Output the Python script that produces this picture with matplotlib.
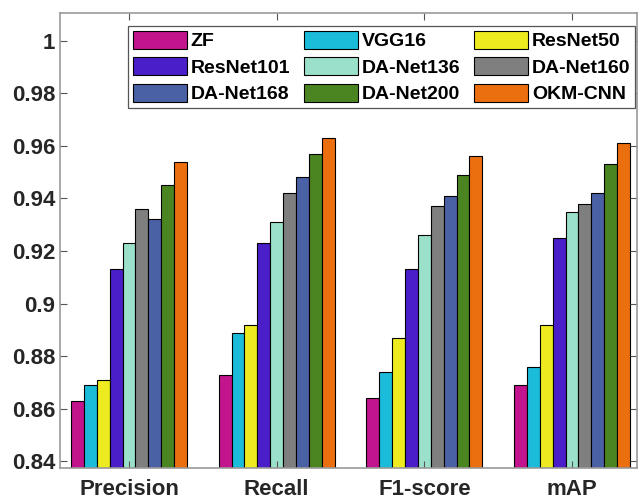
import matplotlib
matplotlib.use('Agg')
import matplotlib.pyplot as plt
import numpy as np

plt.rcParams['font.family'] = ['Liberation Sans', 'DejaVu Sans']
plt.rcParams['font.weight'] = 'bold'

metrics = ['Precision', 'Recall', 'F1-score', 'mAP']
models = ['ZF', 'VGG16', 'ResNet50', 'ResNet101', 'DA-Net136',
          'DA-Net160', 'DA-Net168', 'DA-Net200', 'OKM-CNN']
colors = ['#C2148C', '#1ABCDA', '#EDEB1F', '#4A1FC9', '#9BE0CA',
          '#7F7F7F', '#4B61A5', '#4A8521', '#EC6F0F']

# rows = models, cols = metrics
scores = [
    [0.863, 0.873, 0.864, 0.869],  # ZF
    [0.869, 0.889, 0.874, 0.876],  # VGG16
    [0.871, 0.892, 0.887, 0.892],  # ResNet50
    [0.913, 0.923, 0.913, 0.925],  # ResNet101
    [0.923, 0.931, 0.926, 0.935],  # DA-Net136
    [0.936, 0.942, 0.937, 0.938],  # DA-Net160
    [0.932, 0.948, 0.941, 0.942],  # DA-Net168
    [0.945, 0.957, 0.949, 0.953],  # DA-Net200
    [0.954, 0.963, 0.956, 0.961],  # OKM-CNN
]

fig = plt.figure(figsize=(6.41, 4.99), dpi=100)
ax = fig.add_axes([60 / 641, 31 / 499, 577 / 641, 455 / 499])

x = np.arange(1, len(metrics) + 1)
n = len(models)
w = 0.785 / n
handles = []
for i, (m, c) in enumerate(zip(models, colors)):
    h = ax.bar(x + (i - (n - 1) / 2) * w, scores[i], width=w, color=c,
               edgecolor='black', linewidth=0.8, label=m)
    handles.append(h)

ax.set_xlim(0.533, 4.44)
ax.set_ylim(0.8375, 1.0105)
ax.set_xticks(x)
ax.set_xticklabels(metrics)
ax.set_yticks([0.84, 0.86, 0.88, 0.9, 0.92, 0.94, 0.96, 0.98, 1.0])
ax.set_yticklabels(['0.84', '0.86', '0.88', '0.9', '0.92', '0.94',
                    '0.96', '0.98', '1'])
ax.tick_params(axis='both', direction='in', length=5, width=0.8,
               color='#555555', labelsize=16, labelcolor='#262626',
               top=True, right=True)
ax.tick_params(axis='x', pad=8)
for s in ax.spines.values():
    s.set_color('#999999')
    s.set_linewidth(1.2)

# legend is filled row by row, matplotlib fills column by column
order = [0, 3, 6, 1, 4, 7, 2, 5, 8]
leg = ax.legend([handles[k] for k in order], [models[k] for k in order],
                ncol=3, loc='upper left', bbox_to_anchor=(128 / 641, 1 - 26 / 499),
                bbox_transform=fig.transFigure, fontsize=14,
                handlelength=2.78, handleheight=1.03, handletextpad=0.2,
                labelspacing=0.36, columnspacing=0.7, borderpad=0.25,
                borderaxespad=0, fancybox=False, framealpha=1)
leg.get_frame().set_edgecolor('#555555')
leg.get_frame().set_linewidth(0.9)

fig.savefig('out.png', dpi=100)
